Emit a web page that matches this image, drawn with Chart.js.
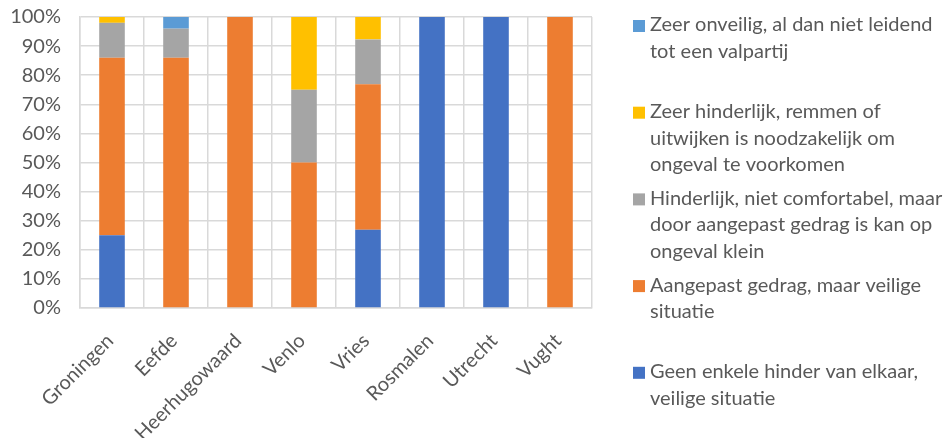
<!DOCTYPE html>
<html>
<head>
<meta charset="utf-8">
<script src="https://cdn.jsdelivr.net/npm/chart.js@4/dist/chart.umd.min.js"></script>
<style>
  html, body { margin: 0; padding: 0; background: #fff; }
  #wrap { width: 951px; height: 438px; position: relative; }
</style>
</head>
<body>
<div id="wrap"><canvas id="js-hinder-chart"></canvas></div>
<script>
// locaties en aandeel per categorie (in %)
var locaties = ["Groningen", "Eefde", "Heerhugowaard", "Venlo", "Vries", "Rosmalen", "Utrecht", "Vught"]
var geenHinder     = [25, 0, 0, 0, 26.9, 100, 100, 0]
var aangepast      = [61, 86, 100, 50, 50, 0, 0, 100]
var hinderlijk     = [12, 10, 0, 25, 15.4, 0, 0, 0]
var zeerHinderlijk = [2, 0, 0, 25, 7.7, 0, 0, 0]
var zeerOnveilig   = [0, 4, 0, 0, 0, 0, 0, 0]
var yTicks = [0, 10, 20, 30, 40, 50, 60, 70, 80, 90, 100]

// legendateksten, regel voor regel (zelfde volgorde als de datasets)
var legendaRegels = [
  ["Geen enkele hinder van elkaar,", "veilige situatie"],
  ["Aangepast gedrag, maar veilige", "situatie"],
  ["Hinderlijk, niet comfortabel, maar", "door aangepast gedrag is kan op", "ongeval klein"],
  ["Zeer hinderlijk, remmen of", "uitwijken is noodzakelijk om", "ongeval te voorkomen"],
  ["Zeer onveilig, al dan niet leidend", "tot een valpartij"]
]

var tekstKleur = "#595959"
var rasterKleur = "#D9D9D9"
var lettertype = "Lato, 'Open Sans', sans-serif"

// legenda rechts van de grafiek, elke ingang in een vak van gelijke hoogte
var legendaRechts = {
  id: "legendaRechts",
  afterDraw: function (chart) {
    var c = chart.ctx
    var items = Chart.defaults.plugins.legend.labels.generateLabels(chart).reverse()
    var vak = 86.7
    var regelHoogte = 26.4
    var boxX = chart.chartArea.right + 41
    var tekstX = boxX + 17
    c.save()
    c.font = "20px " + lettertype
    c.textBaseline = "middle"
    c.textAlign = "left"
    items.forEach(function (item, i) {
      var y = 25 + i * vak
      c.fillStyle = item.fillStyle
      c.fillRect(boxX, y - 5, 12, 12)
      c.fillStyle = tekstKleur
      legendaRegels[item.datasetIndex].forEach(function (regel, r) {
        c.fillText(regel, tekstX, y + r * regelHoogte)
      })
    })
    c.restore()
  }
}

var ctx = document.getElementById("js-hinder-chart")

var chart = new Chart(ctx,
  {
    type: "bar",
    data: {
      labels: locaties,
      datasets: [
        { label: legendaRegels[0].join(" "), data: geenHinder, backgroundColor: "#4472C4" },
        { label: legendaRegels[1].join(" "), data: aangepast, backgroundColor: "#ED7D31" },
        { label: legendaRegels[2].join(" "), data: hinderlijk, backgroundColor: "#A5A5A5" },
        { label: legendaRegels[3].join(" "), data: zeerHinderlijk, backgroundColor: "#FFC000" },
        { label: legendaRegels[4].join(" "), data: zeerOnveilig, backgroundColor: "#5B9BD5" }
      ]
    },
    options: {
      responsive: true,
      maintainAspectRatio: false,
      animation: false,
      datasets: {
        bar: { barPercentage: 0.4, categoryPercentage: 1, borderWidth: 0 }
      },
      layout: {
        padding: { top: 0, left: 10, right: 359, bottom: 0 }
      },
      scales: {
        x: {
          stacked: true,
          grid: { color: rasterKleur, lineWidth: 1.5, drawTicks: false },
          border: { color: rasterKleur, width: 1.5 },
          ticks: {
            color: tekstKleur,
            font: { family: lettertype, size: 20 },
            minRotation: 45,
            maxRotation: 45,
            padding: 21,
            labelOffset: -2
          },
          afterFit: function (scale) {
            scale.height = 130
            scale.paddingLeft = 0
            scale.paddingRight = 0
          }
        },
        y: {
          stacked: true,
          min: 0,
          max: 100,
          afterBuildTicks: function (scale) {
            scale.ticks = yTicks.map(function (v) { return { value: v } })
          },
          grid: { color: rasterKleur, lineWidth: 1.5, drawTicks: false },
          border: { color: rasterKleur, width: 1.5 },
          ticks: {
            color: tekstKleur,
            font: { family: lettertype, size: 20 },
            padding: 19,
            callback: function (v) { return v + "%" }
          },
          afterFit: function (scale) {
            scale.width = 70
            scale.paddingTop = 17
            scale.paddingBottom = 0
          }
        }
      },
      plugins: {
        tooltip: { enabled: false },
        legend: { display: false }
      }
    },
    plugins: [legendaRechts]
  })
</script>
</body>
</html>
